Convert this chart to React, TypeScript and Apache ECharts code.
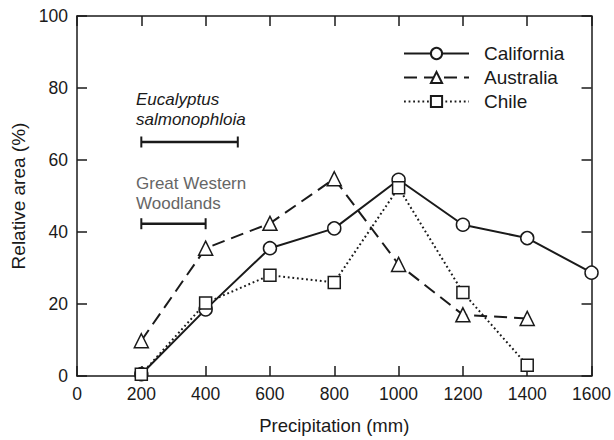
import React, { useEffect, useRef } from "react";
import * as echarts from "echarts";

const precipitation = [200, 400, 600, 800, 1000, 1200, 1400, 1600];
const california = [0.5, 18.5, 35.5, 41, 54.5, 42, 38.3, 28.7];
const australia = [9.8, 35.5, 42.4, 54.8, 31, 17, 16];
const chile = [0.5, 20.3, 28, 26, 52.3, 23.2, 3];
const eucalyptusRange = [200, 500];
const eucalyptusLevel = 65;
const woodlandsRange = [200, 400];
const woodlandsLevel = 42.3;
const xTicks = { min: 0, max: 1600, interval: 200 };
const yTicks = { min: 0, max: 100, interval: 20 };

const INK = "#1a1a1a";
const FONT = "Liberation Sans, Arial, sans-serif";

export default function App() {
  const ref = useRef<HTMLDivElement>(null);
  useEffect(() => {
    if (!ref.current) return;
    const chart = echarts.init(ref.current, undefined, { renderer: "svg" });
    const pair = (xs: number[], ys: number[]) => ys.map((y, i) => [xs[i], y]);
    const markerStyle = { color: "#fff", borderColor: INK, borderWidth: 1.5 };
    const axisCommon = {
      type: "value" as const,
      axisLine: { show: true, onZero: false, lineStyle: { color: INK, width: 1.5 } },
      axisTick: { show: true, inside: true, length: 10, lineStyle: { color: INK, width: 1.5 } },
      splitLine: { show: false },
    };
    const rangeSeries = (range: number[], level: number) => ({
      type: "line",
      data: range.map((x) => [x, level]),
      symbol: "rect",
      symbolSize: [2, 11],
      itemStyle: { color: INK },
      lineStyle: { color: INK, width: 2.5 },
      silent: true,
      z: 3,
    });
    chart.setOption({
      animation: false,
      textStyle: { fontFamily: FONT },
      grid: { left: 77, right: 22, top: 16, bottom: 63 },
      legend: {
        orient: "vertical",
        left: 398,
        top: 39,
        itemWidth: 65,
        itemHeight: 14,
        itemGap: 5,
        textStyle: { fontSize: 19, color: INK, fontFamily: FONT, padding: [0, 0, 0, 10] },
        data: ["California", "Australia", "Chile"],
      },
      xAxis: [
        {
          ...axisCommon,
          ...xTicks,
          position: "bottom",
          name: "Precipitation (mm)",
          nameLocation: "middle",
          nameGap: 40,
          nameTextStyle: { fontSize: 18.5, color: INK, fontFamily: FONT },
          axisLabel: { fontSize: 17.5, color: INK, margin: 9, fontFamily: FONT, formatter: (v: number) => String(v) },
        },
        {
          ...axisCommon,
          ...xTicks,
          position: "top",
          axisLabel: { show: false },
        },
      ],
      yAxis: [
        {
          ...axisCommon,
          ...yTicks,
          position: "left",
          name: "Relative area (%)",
          nameLocation: "middle",
          nameGap: 45,
          nameTextStyle: { fontSize: 19, color: INK, fontFamily: FONT },
          axisLabel: { fontSize: 17.5, color: INK, margin: 9, fontFamily: FONT, formatter: (v: number) => String(v) },
        },
        {
          ...axisCommon,
          ...yTicks,
          position: "right",
          axisLabel: { show: false },
        },
      ],
      series: [
        {
          name: "California",
          type: "line",
          data: pair(precipitation, california),
          symbol: "circle",
          symbolSize: 13,
          itemStyle: markerStyle,
          lineStyle: { color: INK, width: 2, type: "solid" },
          z: 5,
        },
        {
          name: "Australia",
          type: "line",
          data: pair(precipitation, australia),
          symbol: "triangle",
          symbolSize: 14,
          itemStyle: markerStyle,
          lineStyle: { color: INK, width: 2, type: [13, 7] },
          z: 4,
        },
        {
          name: "Chile",
          type: "line",
          data: pair(precipitation, chile),
          symbol: "rect",
          symbolSize: 12,
          itemStyle: markerStyle,
          lineStyle: { color: INK, width: 2, type: [1.8, 2.8] },
          z: 6,
        },
        rangeSeries(eucalyptusRange, eucalyptusLevel),
        rangeSeries(woodlandsRange, woodlandsLevel),
      ],
      graphic: [
        {
          type: "text",
          left: 136,
          top: 89,
          style: {
            text: "Eucalyptus\nsalmonophloia",
            font: `italic 17px ${FONT}`,
            fill: INK,
            lineHeight: 20,
          },
        },
        {
          type: "text",
          left: 136,
          top: 173,
          style: {
            text: "Great Western\nWoodlands",
            font: `17px ${FONT}`,
            fill: "#666",
            lineHeight: 20,
          },
        },
      ],
    });
    return () => chart.dispose();
  }, []);
  return <div ref={ref} style={{ width: 614, height: 440, position: "absolute", left: 0, top: 0 }} />;
}
